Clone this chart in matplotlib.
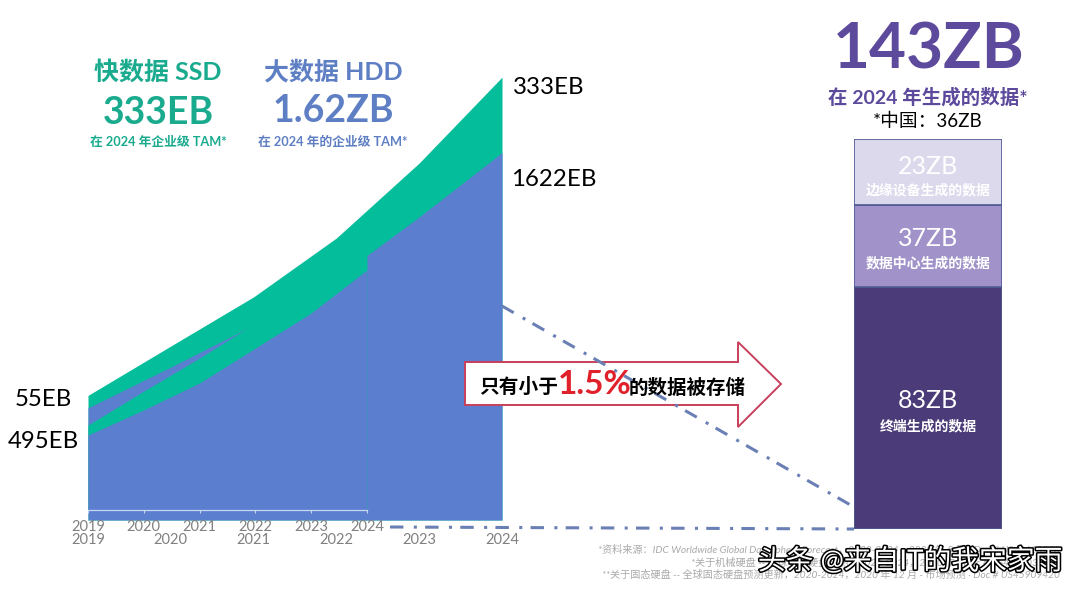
import matplotlib
matplotlib.use('Agg')
import matplotlib.pyplot as plt
import matplotlib.patheffects as pe
from matplotlib.patches import Polygon

plt.rcParams['font.family'] = ['Lato', 'Noto Sans CJK SC', 'DejaVu Sans']

W, H = 1080, 592

# area chart, EB
years = [2019, 2020, 2021, 2022, 2023, 2024]
year_labels = ['2019', '2020', '2021', '2022', '2023', '2024']
total_wide = [550, 768, 985, 1245, 1576, 1955]
hdd_wide = [495, 675, 860, 1068, 1338, 1622]
# second, narrower copy of the chart laid over the first one
total_narrow = [375, 525, 671, 825, 993, 1192]
hdd_narrow = [331, 442, 561, 715, 870, 1060]

# stacked column: drawn heights as measured, they don't follow the ZB labels
seg_heights = [83.4, 28.3, 22.8]
seg_labels = ['83ZB', '37ZB', '23ZB']
seg_names = ['终端生成的数据', '数据中心生成的数据', '边缘设备生成的数据']
seg_colors = ['#4b3b78', '#a193c9', '#dcd9ec']

GREEN = '#04bd9b'
BLUE = '#5b7ecf'
PURPLE = '#5d4a9c'


def px_axes(fig, left, top, right, bottom):
    return fig.add_axes([left / W, 1 - bottom / H, (right - left) / W, (bottom - top) / H])


fig = plt.figure(figsize=(W / 100, H / 100), dpi=100, facecolor='white')

ax = px_axes(fig, 88, 76, 502, 520)
ax.fill_between(years, 0, total_wide, color=GREEN, lw=0)
ax.fill_between(years, 0, hdd_wide, color=BLUE, lw=0)
ax.set_xlim(2019, 2024)
ax.set_ylim(0, 1960)
ax.set_xticks(years)
ax.set_xticklabels(year_labels, fontsize=10.5, color='#808080')
ax.set_yticks([])
ax.tick_params(axis='x', length=0, pad=9)
for s in ax.spines.values():
    s.set_visible(False)

ax2 = px_axes(fig, 88, 76, 367, 510)
ax2.patch.set_alpha(0)
ax2.fill_between(years, 0, total_narrow, color=GREEN, lw=0)
ax2.fill_between(years, 0, hdd_narrow, color=BLUE, lw=0)
ax2.set_xlim(2019, 2024)
ax2.set_ylim(0, 1916)
ax2.set_xticks(years)
ax2.set_xticklabels(year_labels, fontsize=10.5, color='#808080')
ax2.set_yticks([])
ax2.tick_params(axis='x', length=2.5, width=0.8, color='#c9d6f2', pad=5)
for name, s in ax2.spines.items():
    s.set_visible(name == 'bottom')
ax2.spines['bottom'].set_color('#c9d6f2')
ax2.spines['bottom'].set_linewidth(0.9)

bx = px_axes(fig, 854, 139, 1002, 529)
bottom = 0
for h, c in zip(seg_heights, seg_colors):
    bx.bar(0, h, width=1, bottom=bottom, color=c, edgecolor='#4d5c92', linewidth=1.2)
    bottom += h
bx.set_xlim(-0.5, 0.5)
bx.set_ylim(0, bottom)
bx.axis('off')

# overlay in pixel coordinates for lines, arrow and text
ov = fig.add_axes([0, 0, 1, 1], zorder=5)
ov.set_xlim(0, W)
ov.set_ylim(H, 0)
ov.axis('off')
ov.patch.set_alpha(0)

dash = (0, (4.4, 3.4, 1.0, 2.7))
ov.plot([502, 854], [306, 507], color='#6a80b5', lw=2.2, ls=dash)
ov.plot([390, 854], [527, 529], color='#6a80b5', lw=2.2, ls=dash)
ov.add_patch(Polygon([(465, 362), (738, 362), (738, 342), (781, 384), (738, 427), (738, 405), (465, 405)],
                     closed=True, fc='white', ec='#c8405a', lw=1.4))


def label(x, y, s, size, color='black', weight='normal', ha='center', **kw):
    return ov.text(x, y, s, fontsize=size, color=color, fontweight=weight, ha=ha, va='center', **kw)


label(158, 72, '快数据 SSD', 18, '#1aab8f', 'bold')
label(158, 113, '333EB', 27, '#1aab8f', 'bold')
label(158, 142, '在 2024 年企业级 TAM*', 9.2, '#1aab8f', 'bold')
label(333, 72, '大数据 HDD', 18, '#5f7fc4', 'bold')
label(333, 111, '1.62ZB', 27, '#5f7fc4', 'bold')
label(333, 142, '在 2024 年的企业级 TAM*', 9.2, '#5f7fc4', 'bold')

label(513, 87, '333EB', 17.3, ha='left')
label(511, 180, '1622EB', 17.3, ha='left')
label(15, 400, '55EB', 17.3, ha='left')
label(8, 441, '495EB', 17.3, ha='left')

label(929, 50, '143ZB', 46, PURPLE, 'bold')
label(928, 97, '在 2024 年生成的数据*', 14, PURPLE, 'bold')
label(928, 121, '*中国：36ZB', 13.5)

seg_y = [(400, 425), (239, 262), (167, 189)]
for (y1, y2), val, name in zip(seg_y, seg_labels, seg_names):
    label(928, y1, val, 18, 'white')
    label(928, y2, name, 10, 'white', 'bold')

label(479, 387, '只有小于', 14.2, 'black', 'bold', ha='left')
label(558, 385, '1.5%', 24, '#e0202a', 'bold', ha='left')
label(629, 387, '的数据被存储', 14, 'black', 'bold', ha='left')

notes = [
    (549, 1060, '*资料来源：IDC Worldwide Global DataSphere Forecast，2020-2024，2020 年 5 月 - Doc # US46410220'),
    (563, 1050, '*关于机械硬盘 -- 全球机械硬盘预测，2020-2024，2020 年 - Doc # US46910320'),
    (575, 1060, '**关于固态硬盘 -- 全球固态硬盘预测更新，2020-2024，2020 年 12 月 - 市场预测 · Doc # US45909420'),
]
for y, x, s in notes:
    label(x, y, s, 7.3, '#aaaaaa', ha='right', style='italic')

t = label(910, 561, '头条 @来自IT的我宋家雨', 20, 'white')
t.set_path_effects([pe.withStroke(linewidth=2.2, foreground='black')])

fig.savefig('out.png', dpi=100, facecolor='white')
